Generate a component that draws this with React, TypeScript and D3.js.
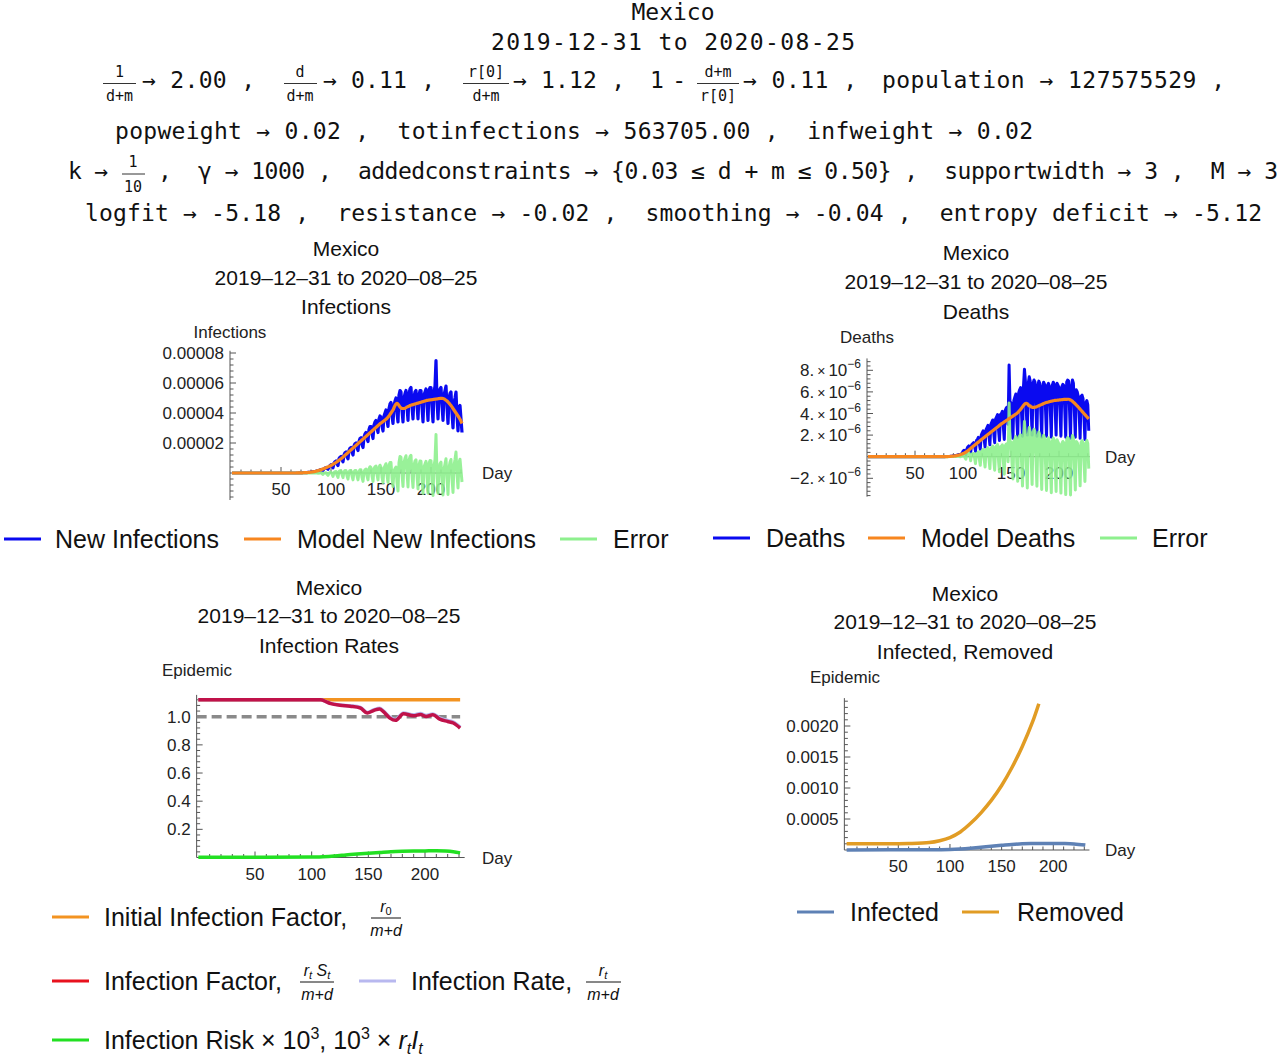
import React from 'react';
import * as d3 from 'd3';

// ---------- data ----------
// daily series, index 0 = day 1; infections & deaths are per million people
const newInfections = [
  0, 0, 0, 0, 0, 0, 0, 0, 0, 0, 0, 0, 0, 0, 0, 0, 0, 0, 0, 0,
  0, 0, 0, 0, 0, 0, 0, 0, 0, 0, 0, 0, 0, 0, 0, 0, 0, 0, 0, 0,
  0, 0, 0, 0, 0, 0, 0, 0, 0, 0, 0, 0, 0, 0, 0, 0, 0, 0, 0,
  0, 0, 0, 0, 0, 0, 0, 0, 0.1, 0.1,
  0.1, 0.1, 0.2, 0.2, 0.2, 0.3, 0.3, 0.4, 0.5, 0.5,
  0.6, 0.7, 0.8, 0.9, 1.0, 1.2, 1.4, 1.5, 1.7, 2.0,
  2.3, 2.0, 1.8, 2.9, 3.3, 3.6, 3.0, 2.5, 4.2, 5.0,
  5.5, 4.8, 3.5, 6.5, 7.5, 8.0, 6.0, 5.0, 9.5, 10.5,
  11, 9, 7.5, 12, 13.5, 14, 11, 9.5, 15, 16.5,
  17, 14, 12, 18, 19.5, 20, 17, 15, 21, 23,
  23.5, 19, 17, 24, 26, 27, 23, 21, 29, 31,
  31, 26, 23, 32, 34, 35, 30, 27, 36, 38,
  37, 31, 28, 38, 40, 42, 35, 31, 43, 46,
  47, 38, 33, 45, 48, 50, 40, 34, 52, 55,
  54, 42, 34, 50, 53, 55, 44, 35, 53, 56,
  57, 44, 36, 51, 54, 55, 45, 36, 52, 55,
  55, 44, 34, 52, 54, 56, 46, 35, 55, 57,
  57, 44, 34, 54, 58, 75, 48, 36, 52, 56,
  57, 45, 35, 52, 55, 58, 44, 33, 50, 53,
  54, 40, 30, 47, 50, 54, 38, 28, 44, 45,
  36, 27,
];

const modelInfections = [
  0, 0, 0, 0, 0, 0, 0, 0, 0, 0, 0, 0, 0, 0, 0, 0, 0, 0, 0, 0,
  0, 0, 0, 0, 0, 0, 0, 0, 0, 0, 0, 0, 0, 0, 0, 0, 0, 0, 0, 0,
  0, 0, 0, 0, 0, 0, 0, 0, 0, 0, 0, 0, 0, 0, 0, 0, 0, 0, 0,
  0, 0, 0, 0, 0, 0, 0.05, 0.05, 0.05, 0.1,
  0.1, 0.1, 0.15, 0.2, 0.2, 0.25, 0.3, 0.35, 0.4, 0.5,
  0.6, 0.7, 0.8, 0.9, 1.0, 1.2, 1.4, 1.6, 1.8, 2.0,
  2.2, 2.5, 2.7, 3.0, 3.2, 3.5, 3.8, 4.1, 4.4, 4.7,
  5.0, 5.4, 5.8, 6.2, 6.6, 7.0, 7.5, 8.0, 8.5, 9.0,
  9.5, 10, 10.6, 11.2, 11.8, 12.4, 13, 13.6, 14.2, 14.8,
  15.4, 16, 16.6, 17.2, 17.8, 18.4, 19, 19.6, 20.2, 20.8,
  21.4, 22, 22.6, 23.2, 23.8, 24.4, 25, 25.6, 26.2, 26.8,
  27.4, 28, 28.6, 29.2, 29.8, 30.4, 31, 31.6, 32.2, 32.8,
  33.3, 33.8, 34.3, 34.8, 35.3, 35.8, 36.4, 37.2, 38, 39,
  40, 41, 42, 43.5, 45, 46, 46.5, 46, 45, 44,
  43.5, 43, 43, 43, 43.2, 43.5, 44, 44.3, 44.6, 45,
  45.2, 45.4, 45.6, 45.8, 46, 46.2, 46.4, 46.6, 46.8, 47,
  47.2, 47.4, 47.6, 47.8, 48, 48.2, 48.4, 48.5, 48.6, 48.7,
  48.8, 48.9, 49, 49.1, 49.2, 49.3, 49.4, 49.5, 49.6, 49.7,
  49.8, 49.8, 49.7, 49.4, 49, 48.5, 48, 47.3, 46.6, 45.8,
  45, 44, 43, 42, 41, 40, 39, 38, 37, 35.8,
  34.5, 33,
];

const deaths = [
  0, 0, 0, 0, 0, 0, 0, 0, 0, 0, 0, 0, 0, 0, 0, 0, 0, 0, 0, 0,
  0, 0, 0, 0, 0, 0, 0, 0, 0, 0, 0, 0, 0, 0, 0, 0, 0, 0, 0, 0,
  0, 0, 0, 0, 0, 0, 0, 0, 0, 0, 0, 0, 0, 0, 0, 0, 0, 0, 0, 0,
  0, 0, 0, 0, 0, 0, 0, 0, 0, 0, 0, 0, 0, 0, 0, 0, 0, 0, 0,
  0, 0, 0.01, 0.01, 0.02, 0.02, 0.03, 0.04, 0.05, 0.06,
  0.08, 0.1, 0.1, 0.12, 0.15, 0.18, 0.2, 0.18, 0.25, 0.3,
  0.5, 0.6, 0.3, 0.2, 0.7, 0.9, 1.0, 0.8, 0.4, 1.1,
  1.2, 1.3, 1.0, 0.5, 1.5, 1.6, 1.8, 1.2, 0.7, 2.0,
  2.2, 2.4, 1.6, 0.9, 2.5, 2.7, 2.9, 2.0, 1.1, 3.0,
  3.2, 3.4, 2.2, 1.3, 3.5, 3.7, 3.9, 2.5, 1.5, 3.9,
  4.0, 4.2, 2.8, 1.6, 4.3, 4.5, 4.6, 3.0, 8.5, 4.8,
  5.0, 3.2, 1.7, 5.2, 5.5, 5.8, 3.5, 1.8, 5.9, 6.2,
  6.4, 4.0, 1.9, 6.5, 8.1, 7.0, 4.2, 2.0, 6.8, 7.4,
  7.0, 4.5, 2.0, 6.8, 7.1, 6.9, 4.4, 1.9, 6.6, 7.0,
  6.8, 4.3, 1.8, 6.5, 6.9, 6.7, 4.3, 1.9, 6.6, 6.8,
  6.5, 4.2, 1.8, 6.6, 6.9, 6.7, 4.4, 2.0, 6.8, 6.6,
  6.4, 4.3, 1.9, 6.5, 6.7, 6.6, 4.4, 1.8, 6.9, 7.1,
  7.0, 4.3, 1.7, 6.5, 7.1, 6.8, 4.2, 1.8, 6.2, 6.0,
  5.6, 4.0, 1.7, 5.6, 5.7, 5.4, 3.6, 1.6, 5.0, 5.2,
  4.8, 2.4,
];

const modelDeaths = [
  0, 0, 0, 0, 0, 0, 0, 0, 0, 0, 0, 0, 0, 0, 0, 0, 0, 0, 0, 0,
  0, 0, 0, 0, 0, 0, 0, 0, 0, 0, 0, 0, 0, 0, 0, 0, 0, 0, 0, 0,
  0, 0, 0, 0, 0, 0, 0, 0, 0, 0, 0, 0, 0, 0, 0, 0, 0, 0, 0, 0,
  0, 0, 0, 0, 0, 0, 0, 0, 0, 0, 0, 0, 0, 0, 0, 0, 0, 0, 0,
  0, 0, 0, 0.01, 0.01, 0.02, 0.02, 0.03, 0.04, 0.05,
  0.06, 0.07, 0.08, 0.1, 0.12, 0.14, 0.16, 0.19, 0.22, 0.25,
  0.29, 0.33, 0.38, 0.43, 0.49, 0.55, 0.62, 0.69, 0.77, 0.85,
  0.93, 1.0, 1.07, 1.14, 1.21, 1.28, 1.35, 1.42, 1.5, 1.57,
  1.64, 1.71, 1.78, 1.85, 1.92, 1.99, 2.06, 2.13, 2.2, 2.27,
  2.34, 2.41, 2.48, 2.55, 2.62, 2.69, 2.76, 2.83, 2.9, 2.97,
  3.04, 3.1, 3.16, 3.22, 3.28, 3.34, 3.4, 3.46, 3.52, 3.58,
  3.64, 3.7, 3.76, 3.82, 3.88, 3.94, 4.0, 4.08, 4.17, 4.27,
  4.38, 4.5, 4.62, 4.74, 4.85, 4.93, 4.95, 4.9, 4.8, 4.7,
  4.7, 4.62, 4.58, 4.56, 4.56, 4.58, 4.6, 4.64, 4.68, 4.72,
  4.76, 4.8, 4.84, 4.88, 4.92, 4.96, 5.0, 5.02, 5.04, 5.06,
  5.1, 5.12, 5.14, 5.16, 5.18, 5.2, 5.21, 5.22, 5.23, 5.24,
  5.25, 5.26, 5.27, 5.28, 5.29, 5.3, 5.3, 5.31, 5.31, 5.32,
  5.32, 5.3, 5.25, 5.2, 5.13, 5.05, 4.97, 4.88, 4.79, 4.7,
  4.6, 4.5, 4.4, 4.3, 4.2, 4.1, 4.0, 3.9, 3.8, 3.7,
  3.6, 3.5,
];

// infection rates (sparse key points: day, value)
const initialFactorDays = [0, 231];
const initialFactor = [1.12, 1.12];
const factorDays = [0, 108, 113, 117, 125, 134, 143, 149, 155, 160, 163, 169, 174, 181, 190, 196, 201, 207, 213, 220, 225, 231];
const infectionFactor = [1.12, 1.12, 1.105, 1.093, 1.081, 1.074, 1.062, 1.026, 1.045, 1.055, 1.038, 0.99, 0.974, 1.021, 1.007, 1.016, 1.002, 1.014, 0.983, 0.966, 0.955, 0.919];
const infectionRate = [1.12, 1.12, 1.106, 1.095, 1.083, 1.077, 1.066, 1.03, 1.05, 1.06, 1.043, 0.996, 0.98, 1.027, 1.013, 1.022, 1.008, 1.02, 0.99, 0.973, 0.962, 0.926];
const riskDays = [0, 60, 100, 110, 120, 130, 140, 150, 160, 170, 180, 190, 200, 210, 218, 225, 231];
const infectionRisk = [0.001, 0.001, 0.003, 0.006, 0.011, 0.018, 0.025, 0.031, 0.036, 0.041, 0.044, 0.046, 0.047, 0.048, 0.046, 0.041, 0.033];

// infected / removed
const removedDays = [0, 20, 40, 60, 80, 90, 100, 110, 120, 130, 140, 150, 160, 170, 180, 186];
const removed = [0.0001, 0.0001, 0.000102, 0.000105, 0.00012, 0.00015, 0.0002, 0.00029, 0.00043, 0.0006, 0.0008, 0.00104, 0.00133, 0.00167, 0.00207, 0.00236];
const infectedDays = [0, 80, 100, 110, 120, 130, 140, 150, 160, 170, 180, 190, 200, 210, 220, 231];
const infected = [0.000002, 0.000004, 0.00001, 0.000018, 0.00003, 0.000045, 0.00006, 0.000075, 0.00009, 0.0001, 0.000104, 0.000106, 0.000106, 0.000104, 0.000098, 0.00008];

const xMajorTicks = [50, 100, 150, 200];
const xMinorTicks = [10, 20, 30, 40, 60, 70, 80, 90, 110, 120, 130, 140, 160, 170, 180, 190, 210, 220, 230];

const country = 'Mexico';
const dateRange = '2019–12–31 to 2020–08–25';

// ---------- styling ----------
const SANS = '"Liberation Sans", Arial, sans-serif';
const MONO = '"DejaVu Sans Mono", monospace';
const AXIS = '#555';
const C_BLUE = '#0a0af0';
const C_ORANGE = '#f7861f';
const C_ERR = '#8ef08e';
const C_RATE_ORANGE = '#f39321';
const C_CRIMSON = '#c0124a';
const C_RED = '#e8121e';
const C_LAVENDER = '#b8b8ef';
const C_GREEN = '#22e022';
const C_INFECTED = '#5e81b5';
const C_REMOVED = '#e19c24';

const dailyDays = newInfections.map((_, i) => i + 1);

type Scale = d3.ScaleLinear<number, number>;
type Tick = { v: number; label: React.ReactNode };

function Axes(p: {
  x: Scale; y: Scale;
  xMin: number; xMax: number; yMin: number; yMax: number;
  yMajor: Tick[]; yMinor: number[];
  dayX: number;
}) {
  const { x, y } = p;
  const ax = x(p.xMin);
  const ay = y(0);
  return (
    <g>
      <line x1={ax} x2={x(p.xMax)} y1={ay} y2={ay} stroke={AXIS} strokeWidth={1} />
      <line x1={ax} x2={ax} y1={y(p.yMin)} y2={y(p.yMax)} stroke={AXIS} strokeWidth={1} />
      {xMajorTicks.map(t => (
        <g key={'xm' + t}>
          <line x1={x(t)} x2={x(t)} y1={ay} y2={ay - 6} stroke={AXIS} />
          <text x={x(t)} y={ay + 22} textAnchor="middle" fontSize={17} fill="#222">{t}</text>
        </g>
      ))}
      {xMinorTicks.map(t => (
        <line key={'xn' + t} x1={x(t)} x2={x(t)} y1={ay} y2={ay - 3.5} stroke={AXIS} />
      ))}
      {p.yMajor.map(t => (
        <g key={'ym' + t.v}>
          <line x1={ax} x2={ax + 6} y1={y(t.v)} y2={y(t.v)} stroke={AXIS} />
          <text x={ax - 6} y={y(t.v) + 6} textAnchor="end" fontSize={17} fill="#222">{t.label}</text>
        </g>
      ))}
      {p.yMinor.map(v => (
        <line key={'yn' + v} x1={ax} x2={ax + 3.5} y1={y(v)} y2={y(v)} stroke={AXIS} />
      ))}
      <text x={p.dayX} y={ay + 6} fontSize={17} fill="#222">Day</text>
    </g>
  );
}

function Titles({ cx, ys, third }: { cx: number; ys: number[]; third: string }) {
  return (
    <g fontSize={21} textAnchor="middle" fill="#111">
      <text x={cx} y={ys[0]}>{country}</text>
      <text x={cx} y={ys[1]}>{dateRange}</text>
      <text x={cx} y={ys[2]}>{third}</text>
    </g>
  );
}

function LegendItem({ x, y, color, children, textX }: { x: number; y: number; color: string; children: React.ReactNode; textX: number }) {
  return (
    <g>
      <line x1={x} x2={x + 37} y1={y} y2={y} stroke={color} strokeWidth={3} />
      <text x={textX} y={y + 9} fontSize={25} fill="#111">{children}</text>
    </g>
  );
}

function MonoFrac({ cx, x1, x2, num, den, numY, denY, barY }: { cx: number; x1: number; x2: number; num: string; den: string; numY: number; denY: number; barY: number }) {
  return (
    <g fontFamily={MONO} fontSize={15} textAnchor="middle" fill="#111">
      <text x={cx} y={numY}>{num}</text>
      <line x1={x1} x2={x2} y1={barY} y2={barY} stroke="#333" strokeWidth={1} />
      <text x={cx} y={denY}>{den}</text>
    </g>
  );
}

function MonoText({ x, y, len, children }: { x: number; y: number; len: number; children: string }) {
  return (
    <text x={x} y={y} textLength={len} lengthAdjust="spacing" fontFamily={MONO} fontSize={23} fill="#111" style={{ whiteSpace: 'pre' }}>{children}</text>
  );
}

function Header() {
  return (
    <g>
      <text x={673} y={20} textAnchor="middle" fontFamily={MONO} fontSize={23} fill="#111">{country}</text>
      <MonoText x={491} y={50} len={364}>2019-12-31 to 2020-08-25</MonoText>

      <MonoFrac cx={119.5} x1={103} x2={136} num="1" den="d+m" numY={77} denY={101} barY={83.5} />
      <MonoText x={142} y={88} len={113}>{'→ 2.00 ,'}</MonoText>
      <MonoFrac cx={300} x1={284} x2={317} num="d" den="d+m" numY={77} denY={101} barY={83.5} />
      <MonoText x={323} y={88} len={112}>{'→ 0.11 ,'}</MonoText>
      <MonoFrac cx={486} x1={463} x2={509} num="r[0]" den="d+m" numY={77} denY={101} barY={83.5} />
      <MonoText x={513} y={88} len={112}>{'→ 1.12 ,'}</MonoText>
      <MonoText x={650} y={88} len={36}>{'1 -'}</MonoText>
      <MonoFrac cx={718} x1={697} x2={739} num="d+m" den="r[0]" numY={77} denY={101} barY={83.5} />
      <MonoText x={743} y={88} len={114}>{'→ 0.11 ,'}</MonoText>
      <MonoText x={882} y={88} len={343}>{'population → 127575529 ,'}</MonoText>

      <MonoText x={115} y={139} len={918}>{'popweight → 0.02 ,  totinfections → 563705.00 ,  infweight → 0.02'}</MonoText>

      <MonoText x={68} y={179} len={40}>{'k →'}</MonoText>
      <MonoFrac cx={133} x1={122} x2={145} num="1" den="10" numY={167} denY={192} barY={174} />
      <MonoText x={158} y={179} len={1120}>{',  γ → 1000 ,  addedconstraints → {0.03 ≤ d + m ≤ 0.50} ,  supportwidth → 3 ,  M → 3'}</MonoText>

      <MonoText x={85} y={221} len={1177}>{'logfit → -5.18 ,  resistance → -0.02 ,  smoothing → -0.04 ,  entropy deficit → -5.12'}</MonoText>
    </g>
  );
}

const sci = (m: string) => (
  <>
    <tspan>{m}</tspan>
    <tspan dx={3} fontSize={14}>×</tspan>
    <tspan dx={3}>10</tspan>
    <tspan dy={-8} fontSize={12}>−6</tspan>
  </>
);

export default function App() {
  // ---- panel A: infections ----
  const xA = d3.scaleLinear().domain([50, 200]).range([281, 431]);
  const yA = d3.scaleLinear().domain([0, 80]).range([473, 353]);
  const errInf = newInfections.map((v, i) => v - modelInfections[i]);
  const lineA = (arr: number[], smooth = false) => {
    const g = d3.line<number>().x((_, i) => xA(dailyDays[i])).y(d => yA(d));
    if (smooth) g.curve(d3.curveMonotoneX);
    return g(arr) ?? '';
  };

  // ---- panel B: deaths ----
  const xB = d3.scaleLinear().domain([50, 200]).range([915, 1059]);
  const yB = d3.scaleLinear().domain([0, 8]).range([456.7, 370.3]);
  const errDeaths = deaths.map((v, i) => v - modelDeaths[i]);
  const lineB = (arr: number[], smooth = false) => {
    const g = d3.line<number>().x((_, i) => xB(dailyDays[i])).y(d => yB(d));
    if (smooth) g.curve(d3.curveMonotoneX);
    return g(arr) ?? '';
  };

  // ---- panel C: infection rates ----
  const xC = d3.scaleLinear().domain([50, 200]).range([255, 425]);
  const yC = d3.scaleLinear().domain([0, 1]).range([857.5, 716.7]);
  const lineC = (days: number[], vals: number[]) =>
    d3.line<number>().x((_, i) => xC(days[i])).y(d => yC(d)).curve(d3.curveMonotoneX)(vals) ?? '';

  // ---- panel D: infected / removed ----
  const xD = d3.scaleLinear().domain([50, 200]).range([898.3, 1053.3]);
  const yD = d3.scaleLinear().domain([0, 0.002]).range([850, 726]);
  const lineD = (days: number[], vals: number[]) =>
    d3.line<number>().x((_, i) => xD(days[i])).y(d => yD(d)).curve(d3.curveCatmullRom.alpha(0.5))(vals) ?? '';

  const minorA = d3.range(-16, 81, 4).filter(v => v % 20 !== 0);
  const minorB = d3.range(-36, 90, 4).map(v => v / 10).filter(v => Math.abs(v % 2) > 1e-9);
  const minorC = d3.range(4, 116, 4).map(v => v / 100).filter(v => Math.abs((v * 100) % 20) > 1e-6);
  const minorD = d3.range(1, 25).map(v => v / 10000).filter(v => Math.round(v * 10000) % 5 !== 0);

  return (
    <svg width={1280} height={1056} style={{ position: 'absolute', left: 0, top: 0, background: '#fff' }} fontFamily={SANS}>
      <Header />

      {/* Panel A */}
      <Titles cx={346} ys={[256, 285, 314]} third="Infections" />
      <text x={230} y={338} textAnchor="middle" fontSize={17} fill="#222">Infections</text>
      <Axes x={xA} y={yA} xMin={-1} xMax={231} yMin={-18} yMax={81.5}
        yMajor={[20, 40, 60, 80].map(v => ({ v, label: (v * 1e-6).toFixed(5) }))}
        yMinor={minorA} dayX={482} />
      <path d={lineA(newInfections)} fill="none" stroke={C_BLUE} strokeWidth={3.2} strokeLinejoin="round" />
      <path d={lineA(errInf)} fill="none" stroke={C_ERR} strokeWidth={3} strokeLinejoin="round" opacity={0.9} />
      <path d={lineA(modelInfections, true)} fill="none" stroke={C_ORANGE} strokeWidth={3.2} strokeLinejoin="round" />

      {/* Panel B */}
      <Titles cx={976} ys={[260, 289, 319]} third="Deaths" />
      <text x={867} y={343} textAnchor="middle" fontSize={17} fill="#222">Deaths</text>
      <Axes x={xB} y={yB} xMin={0} xMax={232} yMin={-3.7} yMax={9.1}
        yMajor={[-2, 2, 4, 6, 8].map(v => ({ v, label: sci((v < 0 ? '−' : '') + Math.abs(v) + '.') }))}
        yMinor={minorB} dayX={1105} />
      <path d={lineB(deaths)} fill="none" stroke={C_BLUE} strokeWidth={3} strokeLinejoin="round" />
      <path d={lineB(errDeaths)} fill="none" stroke={C_ERR} strokeWidth={3} strokeLinejoin="round" opacity={0.9} />
      <path d={lineB(modelDeaths, true)} fill="none" stroke={C_ORANGE} strokeWidth={3.2} strokeLinejoin="round" />

      {/* Top legends */}
      <LegendItem x={4} y={539} color={C_BLUE} textX={55}>New Infections</LegendItem>
      <LegendItem x={244} y={539} color={C_ORANGE} textX={297}>Model New Infections</LegendItem>
      <LegendItem x={560} y={539} color={C_ERR} textX={613}>Error</LegendItem>
      <LegendItem x={713} y={538} color={C_BLUE} textX={766}>Deaths</LegendItem>
      <LegendItem x={868} y={538} color={C_ORANGE} textX={921}>Model Deaths</LegendItem>
      <LegendItem x={1100} y={538} color={C_ERR} textX={1152}>Error</LegendItem>

      {/* Panel C */}
      <Titles cx={329} ys={[595, 623, 653]} third="Infection Rates" />
      <text x={197} y={676} textAnchor="middle" fontSize={17} fill="#222">Epidemic</text>
      <Axes x={xC} y={yC} xMin={-1.5} xMax={235} yMin={0} yMax={1.155}
        yMajor={[0.2, 0.4, 0.6, 0.8, 1.0].map(v => ({ v, label: v.toFixed(1) }))}
        yMinor={minorC} dayX={482} />
      <line x1={xC(-1.5)} x2={xC(231)} y1={yC(1)} y2={yC(1)} stroke="#8a8a8a" strokeWidth={3.5} strokeDasharray="10 5" />
      <path d={lineC(initialFactorDays, initialFactor)} fill="none" stroke={C_RATE_ORANGE} strokeWidth={3.5} />
      <path d={lineC(factorDays, infectionRate)} fill="none" stroke={C_LAVENDER} strokeWidth={3.5} />
      <path d={lineC(factorDays, infectionFactor)} fill="none" stroke={C_CRIMSON} strokeWidth={3.5} />
      <path d={lineC(riskDays, infectionRisk)} fill="none" stroke={C_GREEN} strokeWidth={3.5} />

      {/* Panel D */}
      <Titles cx={965} ys={[601, 629, 659]} third="Infected, Removed" />
      <text x={845} y={683} textAnchor="middle" fontSize={17} fill="#222">Epidemic</text>
      <Axes x={xD} y={yD} xMin={-2.2} xMax={235} yMin={0} yMax={0.00245}
        yMajor={[0.0005, 0.001, 0.0015, 0.002].map(v => ({ v, label: v.toFixed(4) }))}
        yMinor={minorD} dayX={1105} />
      <path d={lineD(infectedDays, infected)} fill="none" stroke={C_INFECTED} strokeWidth={3.5} />
      <path d={lineD(removedDays, removed)} fill="none" stroke={C_REMOVED} strokeWidth={3.5} />

      {/* Bottom-left legend */}
      <LegendItem x={52} y={917} color={C_RATE_ORANGE} textX={104}>Initial Infection Factor,</LegendItem>
      <g fontSize={16} textAnchor="middle" fill="#111" fontStyle="italic">
        <text x={386} y={912}>r<tspan fontSize={11} dy={3} fontStyle="normal">0</tspan></text>
        <line x1={371} x2={401} y1={918} y2={918} stroke="#111" strokeWidth={1} />
        <text x={386} y={936}>m+d</text>
      </g>

      <LegendItem x={52} y={981} color={C_RED} textX={104}>Infection Factor,</LegendItem>
      <g fontSize={16} textAnchor="middle" fill="#111" fontStyle="italic">
        <text x={317} y={976}>r<tspan fontSize={11} dy={3}>t</tspan><tspan dy={-3}> S</tspan><tspan fontSize={11} dy={3}>t</tspan></text>
        <line x1={300} x2={334} y1={982} y2={982} stroke="#111" strokeWidth={1} />
        <text x={317} y={1000}>m+d</text>
      </g>
      <LegendItem x={359} y={981} color={C_LAVENDER} textX={411}>Infection Rate,</LegendItem>
      <g fontSize={16} textAnchor="middle" fill="#111" fontStyle="italic">
        <text x={603} y={976}>r<tspan fontSize={11} dy={3}>t</tspan></text>
        <line x1={586} x2={621} y1={982} y2={982} stroke="#111" strokeWidth={1} />
        <text x={603} y={1000}>m+d</text>
      </g>

      <LegendItem x={52} y={1040} color={C_GREEN} textX={104}>
        Infection Risk × 10<tspan fontSize={16} dy={-10}>3</tspan><tspan dy={10}>, 10</tspan><tspan fontSize={16} dy={-10}>3</tspan><tspan dy={10}> × </tspan><tspan fontStyle="italic">r</tspan><tspan fontSize={16} dy={5} fontStyle="italic">t</tspan><tspan dy={-5} fontStyle="italic">I</tspan><tspan fontSize={16} dy={5} fontStyle="italic">t</tspan>
      </LegendItem>

      {/* Bottom-right legend */}
      <LegendItem x={797} y={912} color={C_INFECTED} textX={850}>Infected</LegendItem>
      <LegendItem x={962} y={912} color={C_REMOVED} textX={1017}>Removed</LegendItem>
    </svg>
  );
}
